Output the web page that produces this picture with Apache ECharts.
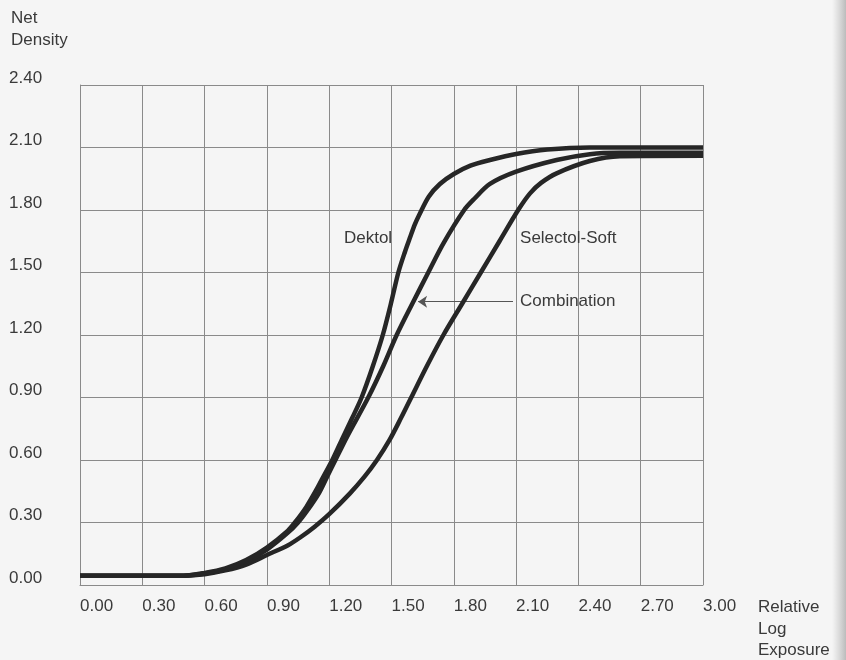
<!DOCTYPE html>
<html>
<head>
<meta charset="utf-8">
<script src="https://cdn.jsdelivr.net/npm/echarts@6/dist/echarts.min.js"></script>
<style>
html,body{margin:0;padding:0;background:#f5f5f5;}
#c{width:846px;height:660px;}
</style>
</head>
<body>
<div id="c"></div>
<script>
// Relative log exposure ticks
var xTicks = [0.00, 0.30, 0.60, 0.90, 1.20, 1.50, 1.80, 2.10, 2.40, 2.70, 3.00];
var yTicks = [0.00, 0.30, 0.60, 0.90, 1.20, 1.50, 1.80, 2.10, 2.40];

// Dektol curve
var dektolX = [0.00, 0.50, 0.60, 0.70, 0.80, 0.90, 1.00, 1.035, 1.09, 1.14, 1.18, 1.215, 1.262, 1.31, 1.356, 1.41, 1.458, 1.497, 1.533, 1.565, 1.59, 1.612, 1.635, 1.68, 1.733, 1.80, 1.88, 1.974, 2.10, 2.25, 2.455, 3.00];
var dektolY = [0.045, 0.045, 0.058, 0.08, 0.12, 0.18, 0.26, 0.30, 0.375, 0.46, 0.535, 0.60, 0.70, 0.80, 0.90, 1.05, 1.20, 1.35, 1.50, 1.60, 1.67, 1.73, 1.78, 1.865, 1.925, 1.973, 2.013, 2.04, 2.069, 2.09, 2.10, 2.10];

// Combination curve
var combX = [0.00, 0.50, 0.60, 0.70, 0.80, 0.90, 1.00, 1.05, 1.10, 1.15, 1.19, 1.23, 1.285, 1.388, 1.46, 1.525, 1.60, 1.677, 1.75, 1.85, 1.90, 1.974, 2.10, 2.295, 2.455, 2.60, 3.00];
var combY = [0.045, 0.045, 0.055, 0.075, 0.113, 0.17, 0.25, 0.30, 0.365, 0.44, 0.52, 0.60, 0.71, 0.90, 1.05, 1.20, 1.35, 1.50, 1.64, 1.80, 1.855, 1.925, 1.984, 2.04, 2.068, 2.075, 2.075];

// Selectol-Soft curve
var selX = [0.00, 0.50, 0.60, 0.70, 0.80, 0.90, 1.00, 1.06, 1.13, 1.20, 1.30, 1.37, 1.43, 1.49, 1.545, 1.595, 1.67, 1.75, 1.84, 1.93, 2.02, 2.11, 2.167, 2.22, 2.295, 2.455, 2.60, 3.00];
var selY = [0.045, 0.045, 0.052, 0.07, 0.098, 0.144, 0.19, 0.228, 0.28, 0.34, 0.44, 0.52, 0.60, 0.695, 0.80, 0.90, 1.05, 1.20, 1.35, 1.50, 1.65, 1.80, 1.88, 1.93, 1.976, 2.035, 2.058, 2.06];

// Annotation texts and anchor values
var labelDektol = {text: 'Dektol', x: 1.271, y: 1.666};
var labelSelectol = {text: 'Selectol-Soft', x: 2.119, y: 1.666};
var labelComb = {text: 'Combination', x: 2.119, y: 1.36};
var arrowFrom = [2.085, 1.36];
var arrowTo = [1.628, 1.36];

function pairs(xs, ys) { return xs.map(function (x, i) { return [x, ys[i]]; }); }

var FONT = 'Liberation Sans, Arial, sans-serif';
var TXT = '#3a3a3a';
var LINE = '#262626';

var chart = echarts.init(document.getElementById('c'), null, {renderer: 'canvas'});

function lineSeries(name, xs, ys, extra) {
  var s = {
    name: name, type: 'line', data: pairs(xs, ys), smooth: 0.3,
    symbol: 'none', lineStyle: {color: LINE, width: 4.5, cap: 'butt', join: 'round'}, z: 5
  };
  if (extra) Object.assign(s, extra);
  return s;
}

var option = {
  backgroundColor: '#f5f5f5',
  animation: false,
  grid: {left: 80, top: 85, width: 623, height: 500, show: false},
  xAxis: {
    type: 'value', min: 0, max: 3, interval: 0.3,
    axisLine: {show: true, lineStyle: {color: '#8a8a8a', width: 1}},
    axisTick: {show: false},
    splitLine: {show: true, lineStyle: {color: '#8a8a8a', width: 1}},
    axisLabel: {
      show: true, margin: 13, align: 'left', color: TXT, fontFamily: FONT, fontSize: 17,
      showMaxLabel: true, showMinLabel: true,
      formatter: function (v) { return v.toFixed(2); }
    }
  },
  yAxis: {
    type: 'value', min: 0, max: 2.4, interval: 0.3,
    axisLine: {show: true, lineStyle: {color: '#8a8a8a', width: 1}},
    axisTick: {show: false},
    splitLine: {show: true, lineStyle: {color: '#8a8a8a', width: 1}},
    axisLabel: {
      show: true, margin: 71, align: 'left', verticalAlign: 'bottom', lineHeight: 14,
      color: TXT, fontFamily: FONT, fontSize: 17,
      showMaxLabel: true, showMinLabel: true,
      formatter: function (v) { return v.toFixed(2); }
    }
  },
  series: [
    lineSeries('Selectol-Soft', selX, selY),
    lineSeries('Combination', combX, combY, {
      markLine: {
        silent: true, symbol: ['none', 'arrow'], symbolSize: 9,
        lineStyle: {color: '#555', width: 1, type: 'solid'},
        itemStyle: {color: '#333'},
        label: {show: false},
        data: [[{coord: arrowFrom}, {coord: arrowTo}]]
      }
    }),
    lineSeries('Dektol', dektolX, dektolY)
  ],
  graphic: []
};
chart.setOption(option);

function textAt(lbl) {
  var p = chart.convertToPixel({gridIndex: 0}, [lbl.x, lbl.y]);
  return {
    type: 'text', x: p[0], y: p[1], z: 10,
    style: {text: lbl.text, fill: TXT, font: '17px ' + FONT, textAlign: 'left', textVerticalAlign: 'middle'}
  };
}

chart.setOption({
  graphic: [
    {type: 'text', left: 11, top: 7,
     style: {text: 'Net\nDensity', fill: TXT, font: '17px ' + FONT, lineHeight: 22}},
    {type: 'text', left: 758, top: 597,
     style: {text: 'Relative\nLog\nExposure', fill: TXT, font: '17px ' + FONT, lineHeight: 21.5}},
    textAt(labelDektol),
    textAt(labelSelectol),
    textAt(labelComb),
    {type: 'rect', right: 0, top: 0, shape: {x: 0, y: 0, width: 14, height: 660}, silent: true,
     style: {fill: new echarts.graphic.LinearGradient(0, 0, 1, 0, [
       {offset: 0, color: 'rgba(160,160,160,0)'}, {offset: 1, color: 'rgba(140,140,140,0.55)'}])}}
  ]
});
</script>
</body>
</html>
